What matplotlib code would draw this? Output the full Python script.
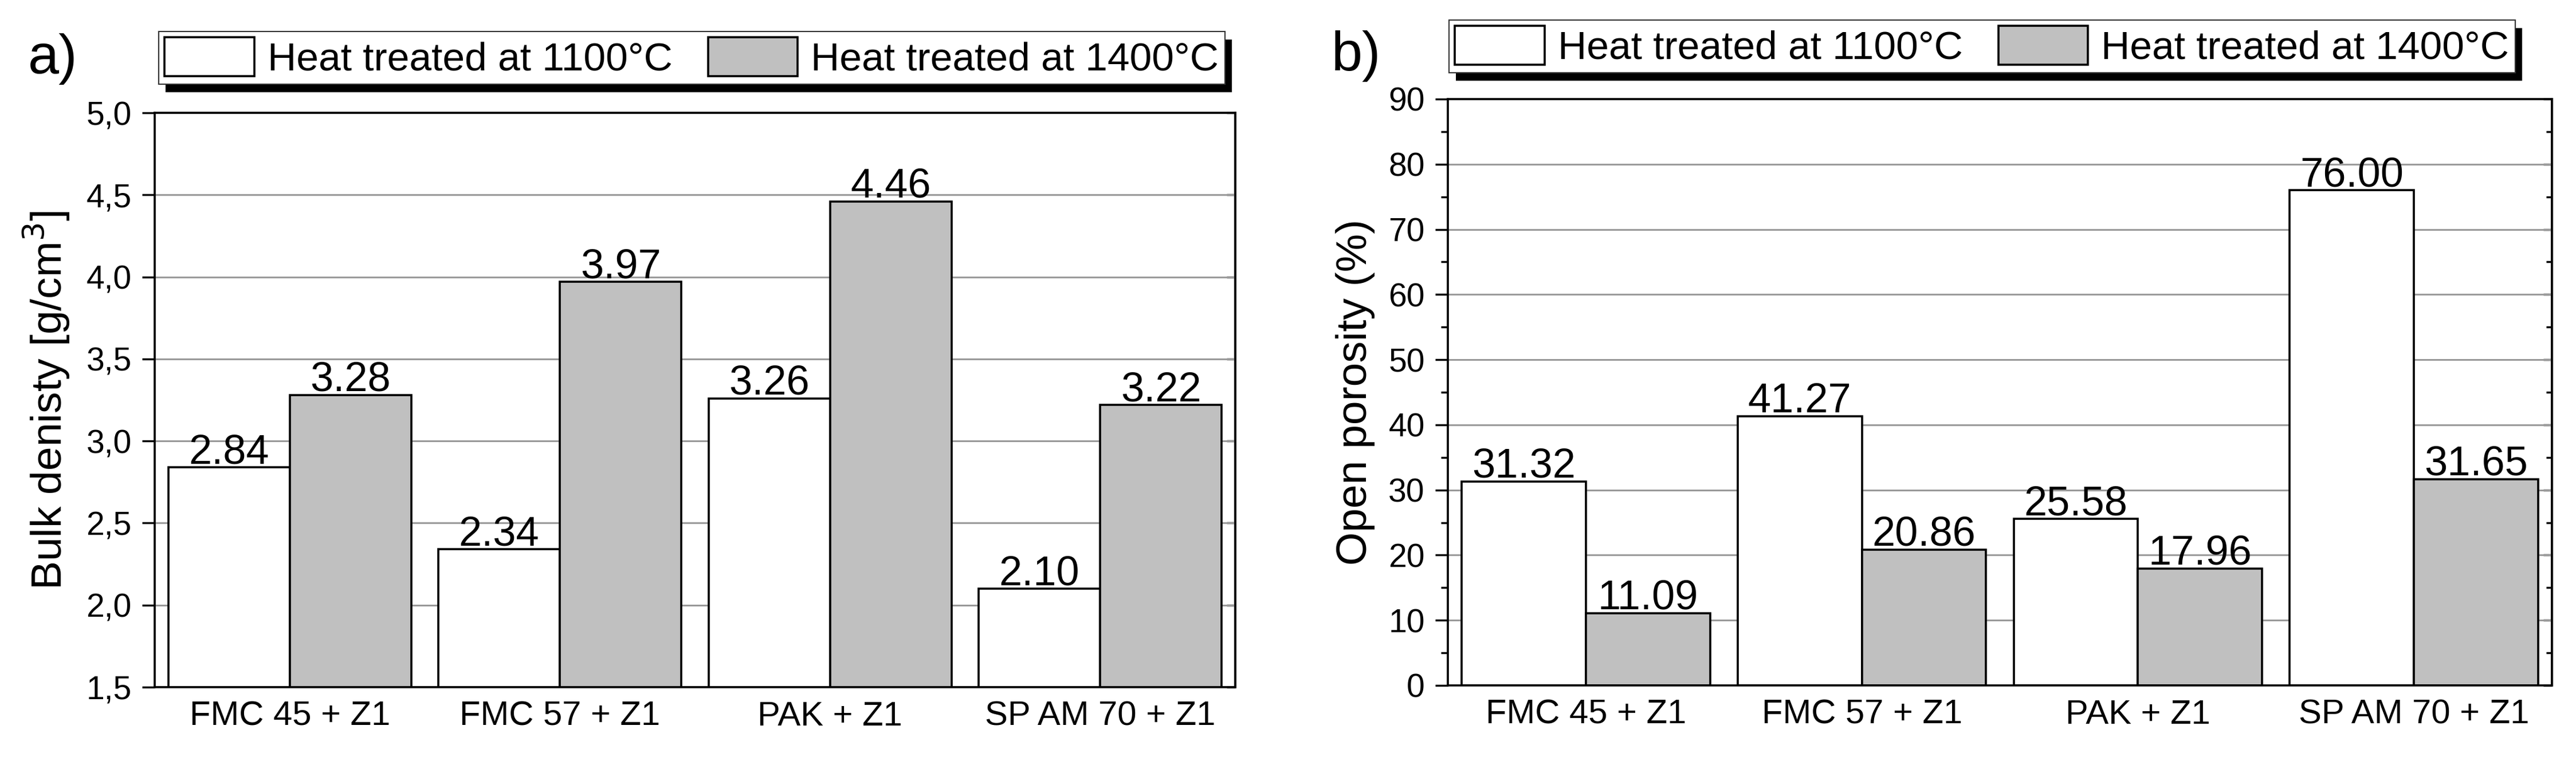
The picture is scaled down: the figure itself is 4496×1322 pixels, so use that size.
import numpy as np
import matplotlib
matplotlib.use("Agg")
import matplotlib.pyplot as plt
from matplotlib.patches import Rectangle
from matplotlib.ticker import MultipleLocator, FuncFormatter

plt.rcParams['font.family'] = ['Liberation Sans', 'DejaVu Sans']

# data
samples = ["FMC 45 + Z1", "FMC 57 + Z1", "PAK + Z1", "SP AM 70 + Z1"]
series_names = ["Heat treated at 1100°C", "Heat treated at 1400°C"]
density_1100 = [2.84, 2.34, 3.26, 2.10]
density_1400 = [3.28, 3.97, 4.46, 3.22]
porosity_1100 = [31.32, 41.27, 25.58, 76.00]
porosity_1400 = [11.09, 20.86, 17.96, 31.65]

W, H = 4496, 1322
fig = plt.figure(figsize=(W / 100, H / 100), dpi=100)
fig.patch.set_facecolor('white')


def px_box(x0, y0, x1, y1):
    # pixel box (from top-left) -> figure fraction [left, bottom, width, height]
    return [x0 / W, 1 - y1 / H, (x1 - x0) / W, (y1 - y0) / H]


def draw_panel(ax, v1, v2, ylim, major, minor, ylabel, label_x, comma):
    x = np.arange(len(samples))
    w = 0.45
    ax.set_axisbelow(True)
    ax.yaxis.grid(True, color='#9a9a9a', linewidth=2.2)
    b1 = ax.bar(x - w / 2, v1, w, color='white', edgecolor='black', linewidth=2.6,
                label=series_names[0])
    b2 = ax.bar(x + w / 2, v2, w, color='#c0c0c0', edgecolor='black', linewidth=2.6,
                label=series_names[1])
    for xi, v in zip(x - w / 2, v1):
        ax.annotate(f"{v:.2f}", (xi, v), xytext=(0, 5), textcoords='offset points',
                    ha='center', va='baseline', fontsize=52)
    for xi, v in zip(x + w / 2, v2):
        ax.annotate(f"{v:.2f}", (xi, v), xytext=(0, 5), textcoords='offset points',
                    ha='center', va='baseline', fontsize=52)

    ax.set_xlim(-0.5, len(samples) - 0.5)
    ax.set_ylim(*ylim)
    ax.set_xticks(x)
    ax.set_xticklabels(samples, fontsize=43)
    ax.tick_params(axis='x', length=0, pad=17)
    ax.yaxis.set_major_locator(MultipleLocator(major))
    if minor:
        ax.yaxis.set_minor_locator(MultipleLocator(minor))
    if comma:
        ax.yaxis.set_major_formatter(FuncFormatter(lambda v, p: f"{v:.1f}".replace('.', ',')))
    else:
        ax.yaxis.set_major_formatter(FuncFormatter(lambda v, p: f"{v:.0f}"))
    ax.tick_params(axis='y', which='major', direction='out', length=16, width=2.5,
                   labelsize=41, pad=13)
    ax.tick_params(axis='y', which='minor', direction='out', length=8.5, width=2.5)
    for s in ax.spines.values():
        s.set_linewidth(2.6)
        s.set_color('black')
    ax.set_ylabel(ylabel, fontsize=54)
    ax.yaxis.set_label_coords(label_x, 0.5)

    # inward ticks on the right side
    sec = ax.secondary_yaxis('right')
    sec.yaxis.set_major_locator(MultipleLocator(major))
    if minor:
        sec.yaxis.set_minor_locator(MultipleLocator(minor))
    sec.tick_params(axis='y', which='major', direction='in', length=11, width=2.5,
                    labelright=False)
    sec.tick_params(axis='y', which='minor', direction='in', length=7, width=2.5,
                    labelright=False)
    sec.spines['right'].set_linewidth(2.6)
    return b1, b2


ax_a = fig.add_axes(px_box(270, 197, 2156, 1200))
ax_b = fig.add_axes(px_box(2527, 173, 4454, 1197))

ha = draw_panel(ax_a, density_1100, density_1400, (1.5, 5.0), 0.5, None,
                "Bulk denisty [g/cm$^3$]", -0.077, True)
hb = draw_panel(ax_b, porosity_1100, porosity_1400, (0, 90), 10, 5,
                "Open porosity (%)", -0.066, False)

fig.text(49 / W, 1 - 128 / H, "a)", fontsize=70, ha='left', va='baseline')
fig.text(2324 / W, 1 - 123 / H, "b)", fontsize=70, ha='left', va='baseline')

legends = []
for handles, (lx, ly) in [(ha, (277, 55)), (hb, (2529, 35))]:
    leg = fig.legend(handles, series_names, loc='upper left',
                     bbox_to_anchor=(lx / W, 1 - ly / H), bbox_transform=fig.transFigure,
                     ncol=2, fontsize=50, frameon=True, fancybox=False, framealpha=1,
                     edgecolor='#333333', borderpad=0.15, borderaxespad=0,
                     handlelength=2.25, handleheight=1.12, handletextpad=0.33,
                     columnspacing=0.9)
    leg.get_frame().set_linewidth(1.5)
    legends.append(leg)

# black drop shadow behind each legend
fig.canvas.draw()
for leg in legends:
    bb = leg.get_window_extent().transformed(fig.transFigure.inverted())
    fig.add_artist(Rectangle((bb.x0 + 12 / W, bb.y0 - 14 / H), bb.width, bb.height,
                             transform=fig.transFigure, facecolor='black',
                             edgecolor='none', zorder=4))

fig.savefig("out.png", dpi=100, facecolor='white')
